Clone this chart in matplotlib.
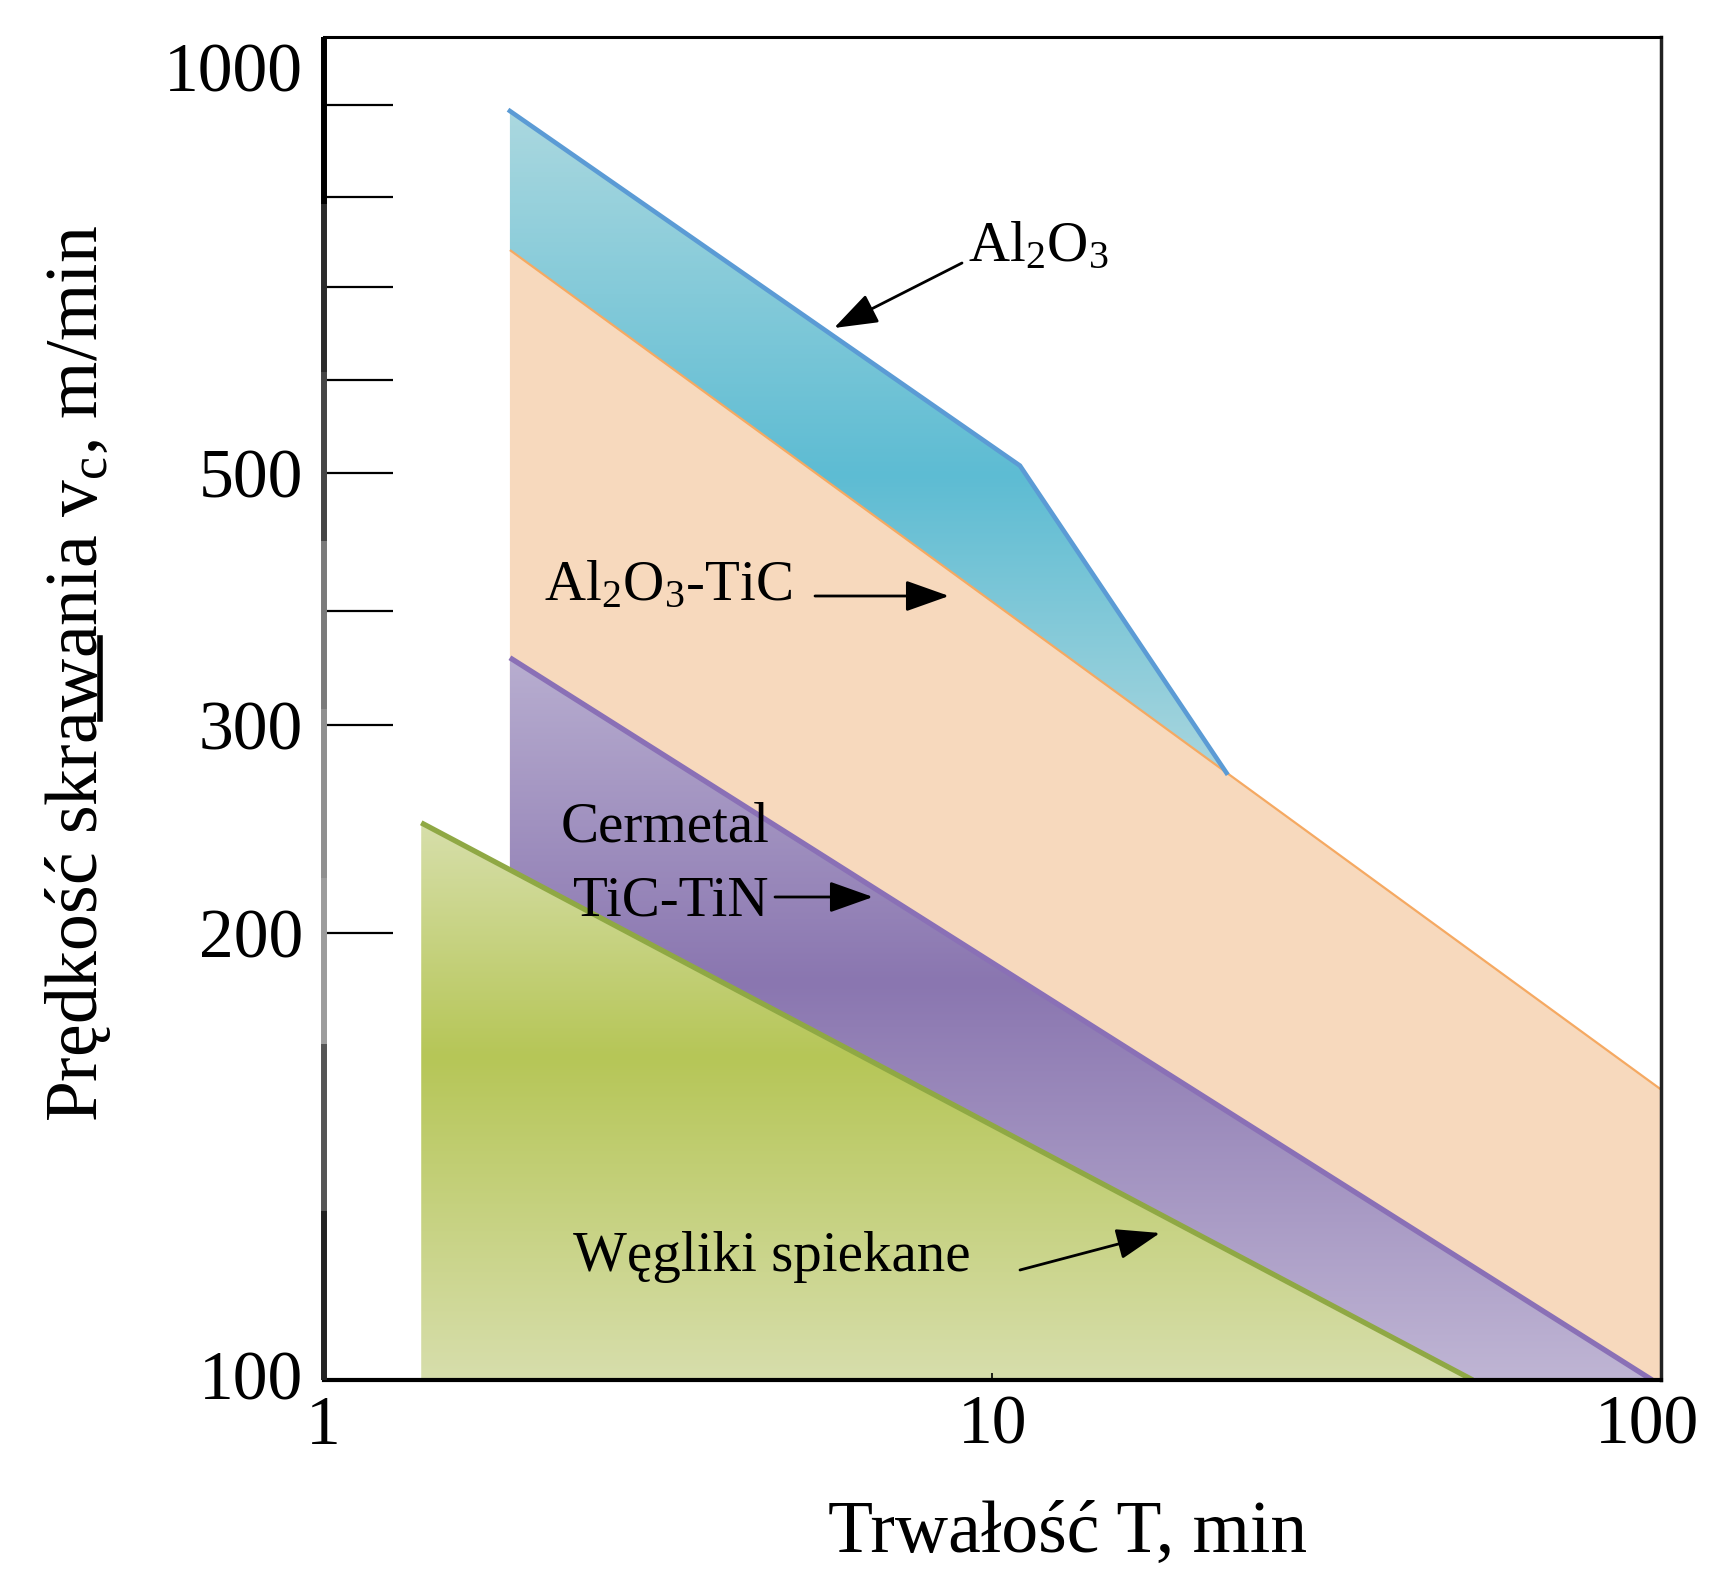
import numpy as np
import matplotlib
matplotlib.use("Agg")
import matplotlib.pyplot as plt
import matplotlib.colors as mcolors
import matplotlib.transforms as mtransforms
from matplotlib.patches import Polygon
from matplotlib.lines import Line2D
from matplotlib.collections import LineCollection
from matplotlib.ticker import FixedLocator, FixedFormatter, NullLocator, NullFormatter

# ---------------- data ----------------
X_TICK_VALUES = [1, 10, 100]
X_TICK_LABELS = ["1", "10", "100"]
Y_TICK_VALUES = [100, 200, 300, 500, 1000]
Y_TICK_LABELS = ["100", "200", "300", "500", "1000"]
Y_MINOR_VALUES = [400, 600, 700, 800, 900]

# the printed y axis is not a true log axis: tick value -> fraction of axis height
Y_SCALE_VALUES = [100, 200, 300, 400, 500, 600, 700, 800, 900, 1000, 1080]
Y_SCALE_POS = [0.0, 0.3328, 0.4877, 0.5726, 0.6753, 0.7446, 0.8139, 0.8809, 0.9497, 0.9777, 1.0]

# tool life T [min] and cutting speed vc [m/min] along the upper boundary of each region
T_AL2O3 = [1.9, 11.0, 22.4]
V_AL2O3 = [893, 508, 277]
T_AL2O3_TIC = [1.9, 100]
V_AL2O3_TIC = [741, 165]
T_CERMET = [1.9, 97]
V_CERMET = [359, 100]
T_CARBIDE = [1.4, 52.3]
V_CARBIDE = [253, 100]

LABEL_AL2O3 = r"Al$_\mathregular{2}$O$_\mathregular{3}$"
LABEL_AL2O3_TIC = r"Al$_\mathregular{2}$O$_\mathregular{3}$-TiC"
LABEL_CERMET_1 = "Cermetal"
LABEL_CERMET_2 = "TiC-TiN"
LABEL_CARBIDE = "Węgliki spiekane"
XLABEL = "Trwałość T, min"
YLABEL = r"Prędkość skrawania v$_\mathregular{c}$, m/min"

# ---------------- style ----------------
plt.rcParams["font.family"] = ["Liberation Serif", "DejaVu Serif"]
plt.rcParams["mathtext.fontset"] = "custom"
plt.rcParams["mathtext.rm"] = "Liberation Serif"
plt.rcParams["mathtext.it"] = "Liberation Serif:italic"
plt.rcParams["mathtext.bf"] = "Liberation Serif:bold"

W, H = 1709, 1570
fig = plt.figure(figsize=(W / 100, H / 100), dpi=100)
ax_l, ax_r, ax_t, ax_b = 323.5, 1661, 37, 1380
ax = fig.add_axes([ax_l / W, (H - ax_b) / H, (ax_r - ax_l) / W, (ax_b - ax_t) / H])


def fwd(v):
    return np.interp(v, Y_SCALE_VALUES, Y_SCALE_POS)


def inv(p):
    return np.interp(p, Y_SCALE_POS, Y_SCALE_VALUES)


ax.set_xscale("log")
ax.set_yscale("function", functions=(fwd, inv))
ax.set_xlim(X_TICK_VALUES[0], X_TICK_VALUES[-1])
ax.set_ylim(Y_SCALE_VALUES[0], Y_SCALE_VALUES[-1])
ax.set_autoscale_on(False)
V_MIN = Y_SCALE_VALUES[0]


def gradient_fill(verts, stops, colors, zorder):
    verts = np.asarray(verts, dtype=float)
    poly = Polygon(verts, closed=True, facecolor="none", edgecolor="none")
    ax.add_patch(poly)
    axf = ax.transAxes.inverted().transform(ax.transData.transform(verts))
    top, bot = axf[:, 1].max(), axf[:, 1].min()
    yy = np.linspace(0, 1, 800)
    t = np.clip((top - yy) / (top - bot), 0, 1)
    rgb = np.array([mcolors.to_rgb(c) for c in colors])
    img = np.stack([np.interp(t, stops, rgb[:, k]) for k in range(3)], axis=-1)[:, None, :]
    im = ax.imshow(img, extent=(0, 1, 0, 1), transform=ax.transAxes, origin="lower",
                   aspect="auto", interpolation="bilinear", zorder=zorder)
    im.set_clip_path(poly)


# Al2O3-TiC (uniform peach), lowest layer
orange_verts = list(zip(T_AL2O3_TIC, V_AL2O3_TIC)) + [(T_AL2O3_TIC[-1], V_MIN), (T_AL2O3_TIC[0], V_MIN)]
ax.add_patch(Polygon(orange_verts, closed=True, facecolor="#f7d9bd", edgecolor="none", zorder=1))

# Al2O3 band between its line and the Al2O3-TiC line
blue_verts = list(zip(T_AL2O3, V_AL2O3)) + [(T_AL2O3_TIC[0], V_AL2O3_TIC[0])]
gradient_fill(blue_verts, [0, 0.55, 1], ["#abd8df", "#5dbcd3", "#a9d6de"], 1.1)
ax.plot(T_AL2O3_TIC, V_AL2O3_TIC, color="#f5a962", lw=1.6, zorder=1.15, solid_capstyle="butt")
ax.plot(T_AL2O3, V_AL2O3, color="#5b9bd5", lw=3.3, zorder=1.16, solid_joinstyle="miter")

# cermet
purple_verts = list(zip(T_CERMET, V_CERMET)) + [(T_CERMET[0], V_MIN)]
gradient_fill(purple_verts, [0, 0.45, 1], ["#b8aed0", "#8a76b0", "#bfb5d4"], 1.2)
ax.plot(T_CERMET, V_CERMET, color="#8a70b6", lw=3.8, zorder=1.25, solid_capstyle="butt")

# cemented carbides
green_verts = list(zip(T_CARBIDE, V_CARBIDE)) + [(T_CARBIDE[0], V_MIN)]
gradient_fill(green_verts, [0, 0.42, 1], ["#d7dfab", "#b6c657", "#d7deac"], 1.3)
ax.plot(T_CARBIDE, V_CARBIDE, color="#8fa844", lw=3.8, zorder=1.35, solid_capstyle="butt")

# ---------------- axes ----------------
ax.xaxis.set_major_locator(FixedLocator(X_TICK_VALUES))
ax.xaxis.set_major_formatter(FixedFormatter(X_TICK_LABELS))
ax.xaxis.set_minor_locator(NullLocator())
ax.yaxis.set_major_locator(FixedLocator(Y_TICK_VALUES))
ax.yaxis.set_major_formatter(FixedFormatter(Y_TICK_LABELS))
ax.yaxis.set_minor_locator(FixedLocator(Y_MINOR_VALUES))
ax.yaxis.set_minor_formatter(NullFormatter())

ax.tick_params(axis="y", which="both", direction="in", length=50, width=1.6, pad=14.8,
               labelsize=50, left=True, right=False, color="black")
ax.tick_params(axis="x", which="major", direction="in", length=5, width=1.2, pad=11,
               labelsize=50, bottom=True, top=False)
for loc, tick in zip(Y_TICK_VALUES, ax.yaxis.get_major_ticks()):
    if loc == Y_TICK_VALUES[-1]:
        tick.tick1line.set_visible(False)
    if loc == Y_TICK_VALUES[0]:
        lab = tick.label1
        lab.set_transform(lab.get_transform() + mtransforms.ScaledTranslation(0, 5 / 100, fig.dpi_scale_trans))
# keep the right-most x label inside the picture, as in the original
last = ax.xaxis.get_major_ticks()[len(X_TICK_VALUES) - 1].label1
last.set_transform(last.get_transform() + mtransforms.ScaledTranslation(-14 / 100, 0, fig.dpi_scale_trans))

ax.spines["top"].set_linewidth(2.2)
ax.spines["bottom"].set_linewidth(3.0)
ax.spines["right"].set_linewidth(2.5)
ax.spines["right"].set_color("#222222")
ax.spines["left"].set_visible(False)

# left axis line drawn in grey shades like the scanned original
band_px = [37, 204, 372, 541, 709, 878, 1044, 1211, 1380]
band_cols = ["#000000", "#2a2a2a", "#454545", "#7a7a7a", "#8f8f8f", "#9c9c9c", "#555555", "#222222"]
segs = []
for a, b in zip(band_px[:-1], band_px[1:]):
    segs.append([(0, (ax_b - a) / (ax_b - ax_t)), (0, (ax_b - b) / (ax_b - ax_t))])
ax.add_collection(LineCollection(segs, colors=band_cols, linewidths=4.3,
                                 transform=ax.transAxes, clip_on=False, zorder=3))

# ---------------- annotations ----------------
def fx(px):
    return (px - ax_l) / (ax_r - ax_l)


def fy(py):
    return (ax_b - py) / (ax_b - ax_t)


arrow_kw = dict(arrowstyle="-|>,head_length=0.9,head_width=0.32", color="black", lw=2.0,
                shrinkA=0, shrinkB=0, mutation_scale=30)
TXT = 41
ax.text(fx(968), fy(261), LABEL_AL2O3, transform=ax.transAxes, fontsize=TXT, ha="left", va="baseline", zorder=5)
ax.annotate("", xy=(fx(834), fy(328)), xytext=(fx(962), fy(263)), xycoords="axes fraction",
            arrowprops=arrow_kw, zorder=5)
ax.text(fx(544), fy(600), LABEL_AL2O3_TIC, transform=ax.transAxes, fontsize=TXT, ha="left", va="baseline", zorder=5)
ax.annotate("", xy=(fx(949), fy(596)), xytext=(fx(815), fy(596)), xycoords="axes fraction",
            arrowprops=arrow_kw, zorder=5)
ax.text(fx(561), fy(842), LABEL_CERMET_1, transform=ax.transAxes, fontsize=TXT, ha="left", va="baseline", zorder=5)
ax.text(fx(573), fy(915), LABEL_CERMET_2, transform=ax.transAxes, fontsize=TXT, ha="left", va="baseline", zorder=5)
ax.annotate("", xy=(fx(873), fy(897)), xytext=(fx(775), fy(897)), xycoords="axes fraction",
            arrowprops=arrow_kw, zorder=5)
ax.text(fx(573), fy(1271), LABEL_CARBIDE, transform=ax.transAxes, fontsize=TXT, ha="left", va="baseline", zorder=5)
ax.annotate("", xy=(fx(1160), fy(1233)), xytext=(fx(1020), fy(1270)), xycoords="axes fraction",
            arrowprops=arrow_kw, zorder=5)

# axis titles
fig.text(1068 / W, 2 / H, XLABEL, ha="center", va="bottom", fontsize=53)
fig.text(113 / W, (H - 673) / H, YLABEL, rotation=90, ha="right", va="center", fontsize=53)
fig.add_artist(Line2D([100 / W, 100 / W], [(H - 638) / H, (H - 719) / H], lw=4.0, color="black"))

fig.savefig("out.png", dpi=100)
